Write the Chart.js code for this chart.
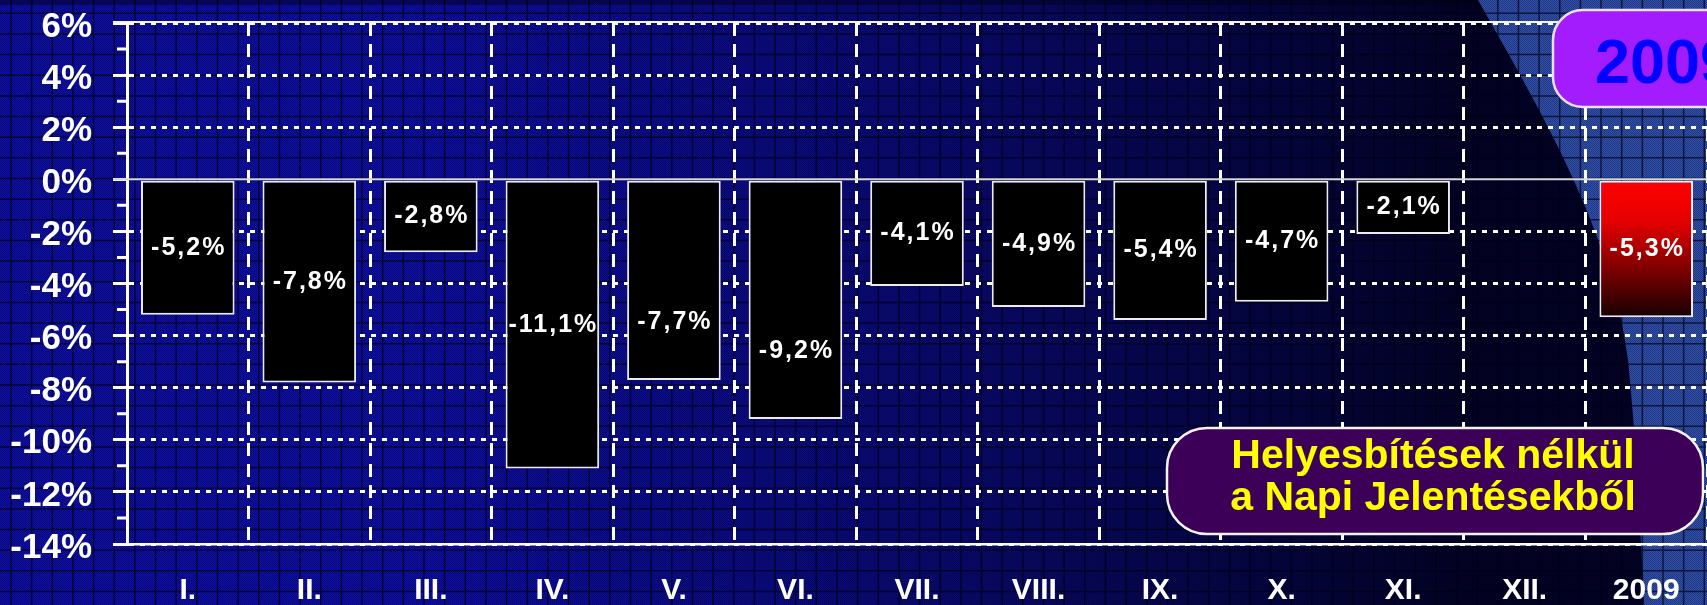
<!DOCTYPE html>
<html>
<head>
<meta charset="utf-8">
<script src="https://cdn.jsdelivr.net/npm/chart.js@4.4.1/dist/chart.umd.min.js"></script>
<style>
  html, body { margin: 0; padding: 0; background: #0a0a8c; overflow: hidden; }
  #myChart { display: block; }
</style>
</head>
<body>
<canvas id="myChart" width="1707" height="605"></canvas>
<script>
// monthly change vs. previous year, last bar is the whole year
const months = ["I.", "II.", "III.", "IV.", "V.", "VI.", "VII.", "VIII.", "IX.", "X.", "XI.", "XII.", "2009"];
const change = [-5.2, -7.8, -2.8, -11.1, -7.7, -9.2, -4.1, -4.9, -5.4, -4.7, -2.1, null, -5.3];
const yTicks = [6, 4, 2, 0, -2, -4, -6, -8, -10, -12, -14];
const yearTitle = "2009";
const noteLines = ["Helyesbítések nélkül", "a Napi Jelentésekből"];

// a couple of labels sit lower inside their bars
const labelNudge = { 4: 42, 5: 51 };

const arial = "'Liberation Sans', Arial, sans-serif";

const fmt = v => v.toFixed(1).replace('.', ',') + '%';

// small checker used to give the background its dotted look
const dot = document.createElement('canvas');
dot.width = 2; dot.height = 2;
const dctx = dot.getContext('2d');
dctx.fillStyle = 'rgba(0,0,0,0.3)';
dctx.fillRect(0, 0, 1, 1);
dctx.fillRect(1, 1, 1, 1);

const backdrop = {
  id: 'backdrop',
  beforeDraw(chart) {
    const { ctx, width, height } = chart;
    ctx.save();
    ctx.fillStyle = 'rgb(14,14,168)';
    ctx.fillRect(0, 0, width, height);

    // fades to near black towards the right
    const g = ctx.createLinearGradient(430, 0, 1470, 0);
    g.addColorStop(0, 'rgba(0,0,18,0)');
    g.addColorStop(0.5, 'rgba(0,0,18,0.35)');
    g.addColorStop(1, 'rgba(0,0,18,0.85)');
    ctx.fillStyle = g;
    ctx.fillRect(0, 0, width, height);

    // darker strip along the top
    ctx.fillStyle = 'rgba(0,0,20,0.45)';
    ctx.fillRect(0, 0, width, 5);

    // lighter swoosh on the right
    ctx.beginPath();
    ctx.moveTo(1478, 0);
    ctx.bezierCurveTo(1540, 110, 1612, 230, 1628, 360);
    ctx.bezierCurveTo(1636, 440, 1640, 520, 1644, height);
    ctx.lineTo(width, height);
    ctx.lineTo(width, 0);
    ctx.closePath();
    ctx.fillStyle = 'rgb(48,80,175)';
    ctx.fill();

    ctx.fillStyle = ctx.createPattern(dot, 'repeat');
    ctx.fillRect(0, 0, width, height);

    ctx.strokeStyle = 'rgba(0,0,22,0.7)';
    ctx.lineWidth = 1.5;
    ctx.beginPath();
    for (let x = 11; x < width; x += 20.65) { ctx.moveTo(x, 0); ctx.lineTo(x, height); }
    for (let y = 13.3; y < height; y += 20.65) { ctx.moveTo(0, y); ctx.lineTo(width, y); }
    ctx.stroke();
    ctx.restore();
  }
};

const axisLines = {
  id: 'axisLines',
  afterDatasetsDraw(chart) {
    const { ctx, chartArea, scales: { y } } = chart;
    ctx.save();
    // minor ticks between the labelled ones
    ctx.strokeStyle = '#ffffff';
    ctx.lineWidth = 3;
    ctx.beginPath();
    for (let i = 0; i < yTicks.length - 1; i++) {
      const py = y.getPixelForValue((yTicks[i] + yTicks[i + 1]) / 2);
      ctx.moveTo(chartArea.left - 10, py);
      ctx.lineTo(chartArea.left, py);
    }
    ctx.stroke();

    // zero line
    const y0 = y.getPixelForValue(0);
    ctx.strokeStyle = '#d6d6d6';
    ctx.lineWidth = 2;
    ctx.beginPath();
    ctx.moveTo(chartArea.left - 14, y0);
    ctx.lineTo(chartArea.right, y0);
    ctx.stroke();

    // solid frame line at the top
    ctx.strokeStyle = '#f4f4f4';
    ctx.lineWidth = 2;
    ctx.beginPath();
    ctx.moveTo(chartArea.left - 14, chartArea.top - 1);
    ctx.lineTo(chartArea.right, chartArea.top - 1);
    ctx.stroke();

    // value labels inside the bars
    ctx.fillStyle = '#ffffff';
    ctx.font = 'bold 25px ' + arial;
    ctx.letterSpacing = '2px';
    ctx.textAlign = 'center';
    ctx.textBaseline = 'middle';
    chart.getDatasetMeta(0).data.forEach((bar, i) => {
      const v = change[i];
      if (v == null) return;
      const py = (bar.y + bar.base) / 2 + (labelNudge[i] || 0);
      ctx.fillText(fmt(v), bar.x + 1, py);
    });
    ctx.restore();
  }
};

const boxes = {
  id: 'boxes',
  afterDraw(chart) {
    const { ctx } = chart;
    ctx.save();

    // year badge, runs off the right edge
    ctx.beginPath();
    ctx.roundRect(1553, 10, 260, 97, 30);
    ctx.fillStyle = '#a21cfd';
    ctx.fill();
    ctx.lineWidth = 2.5;
    ctx.strokeStyle = '#ece0ff';
    ctx.stroke();
    ctx.fillStyle = '#0000ff';
    ctx.font = 'bold 63px ' + arial;
    ctx.textAlign = 'left';
    ctx.textBaseline = 'alphabetic';
    ctx.fillText(yearTitle, 1595, 83);

    // note box
    ctx.beginPath();
    ctx.roundRect(1167, 428, 536, 106, 40);
    ctx.fillStyle = '#3d0059';
    ctx.fill();
    ctx.lineWidth = 2.5;
    ctx.strokeStyle = '#f2f2f2';
    ctx.stroke();
    ctx.fillStyle = '#ffff00';
    ctx.font = 'bold 41px ' + arial;
    ctx.textAlign = 'center';
    ctx.fillText(noteLines[0], 1433, 468);
    ctx.fillText(noteLines[1], 1433, 510);
    ctx.restore();
  }
};

function barFill(c) {
  if (c.dataIndex !== months.length - 1) return '#000000';
  const y = c.chart.scales.y;
  if (!y) return '#ff0000';
  const g = c.chart.ctx.createLinearGradient(0, y.getPixelForValue(0), 0, y.getPixelForValue(change[c.dataIndex]));
  g.addColorStop(0, '#ff0000');
  g.addColorStop(0.3, '#e60000');
  g.addColorStop(1, '#160000');
  return g;
}

const myChart = new Chart('myChart', {
  type: 'bar',
  data: {
    labels: months,
    datasets: [{
      data: change,
      backgroundColor: barFill,
      borderColor: '#ececec',
      borderWidth: 2,
      borderSkipped: false,
      barPercentage: 0.77,
      categoryPercentage: 1
    }]
  },
  options: {
    responsive: false,
    animation: false,
    layout: { padding: { top: 23, right: 0, bottom: 0, left: 0 } },
    plugins: { legend: { display: false }, tooltip: { enabled: false } },
    scales: {
      x: {
        afterFit: s => { s.height = 61; s.paddingLeft = 0; s.paddingRight = 0; },
        grid: { color: '#ffffff', lineWidth: 3, drawTicks: false, offset: true },
        border: { display: true, color: '#ffffff', width: 2.5, dash: [13, 8] },
        ticks: { color: '#ffffff', padding: 29, font: { family: arial, size: 30, weight: 'bold' } }
      },
      y: {
        min: -14,
        max: 6,
        afterFit: s => { s.width = 127; s.paddingTop = 0; s.paddingBottom = 0; },
        afterBuildTicks: s => { s.ticks = yTicks.map(v => ({ value: v })); },
        grid: {
          color: c => (c.tick && c.tick.value === 0) ? 'rgba(0,0,0,0)' : '#ffffff',
          lineWidth: 3,
          tickLength: 14,
          tickColor: '#ffffff',
          tickWidth: 3
        },
        border: { display: true, color: '#ffffff', width: 3, dash: [5, 6] },
        ticks: {
          color: '#ffffff',
          padding: 21,
          labelOffset: 4,
          font: { family: arial, size: 35, weight: 'bold' },
          callback: v => v + '%'
        }
      }
    }
  },
  plugins: [backdrop, axisLines, boxes]
});
</script>
</body>
</html>
